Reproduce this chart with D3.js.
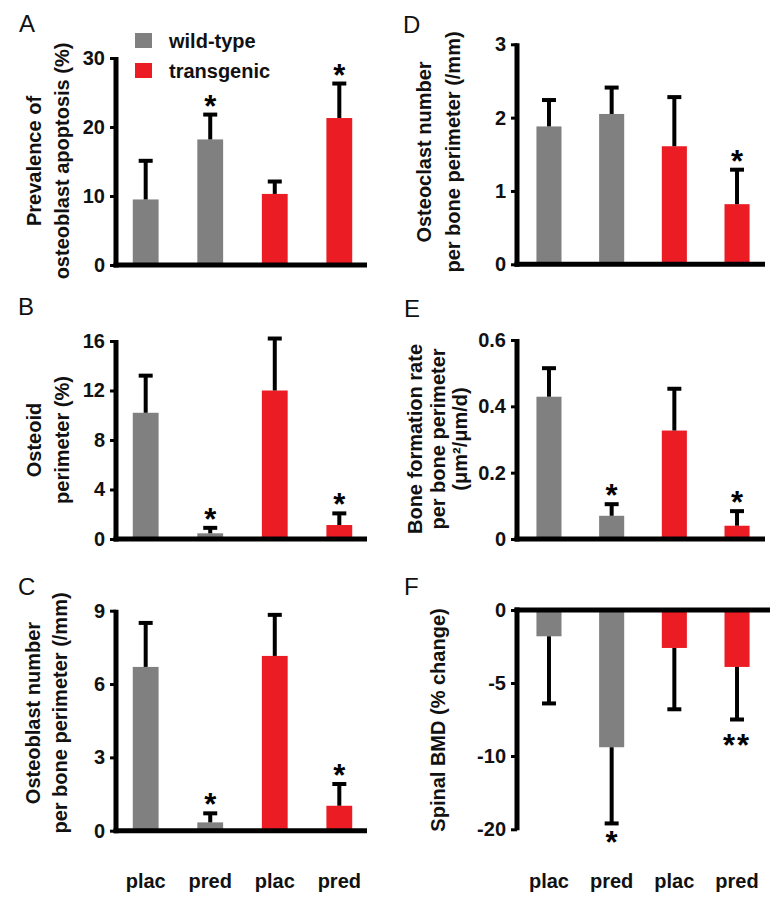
<!DOCTYPE html>
<html>
<head>
<meta charset="utf-8">
<script src="https://cdn.jsdelivr.net/npm/d3@7"></script>
<style>
  html, body { margin: 0; padding: 0; background: #fff; }
  svg { display: block; font-family: "Liberation Sans", Arial, Helvetica, sans-serif; }
</style>
</head>
<body>
<svg id="chart" width="783" height="906"></svg>
<script>
// ---------- data ----------
const categories = ["plac", "pred", "plac", "pred"];
const genotypes = ["wild-type", "wild-type", "transgenic", "transgenic"];
const legendLabels = ["wild-type", "transgenic"];

const apoptosisMean = [9.5, 18.2, 10.3, 21.3];
const apoptosisErr  = [15.1, 21.8, 12.1, 26.3];
const apoptosisStars = ["", "*", "", "*"];
const apoptosisTicks = [0, 10, 20, 30];

const osteoidMean = [10.2, 0.46, 12.0, 1.13];
const osteoidErr  = [13.2, 0.9, 16.2, 2.07];
const osteoidStars = ["", "*", "", "*"];
const osteoidTicks = [0, 4, 8, 12, 16];

const obNumberMean = [6.7, 0.34, 7.15, 1.02];
const obNumberErr  = [8.5, 0.71, 8.83, 1.91];
const obNumberStars = ["", "*", "", "*"];
const obNumberTicks = [0, 3, 6, 9];

const ocNumberMean = [1.88, 2.05, 1.61, 0.82];
const ocNumberErr  = [2.24, 2.41, 2.28, 1.29];
const ocNumberStars = ["", "", "", "*"];
const ocNumberTicks = [0, 1, 2, 3];

const bfrMean = [0.429, 0.070, 0.327, 0.040];
const bfrErr  = [0.515, 0.105, 0.453, 0.084];
const bfrStars = ["", "*", "", "*"];
const bfrTicks = [0, 0.2, 0.4, 0.6];
const bfrTickLabels = ["0", "0.2", "0.4", "0.6"];

const bmdMean = [-1.8, -9.4, -2.6, -3.9];
const bmdErr  = [-6.4, -19.2, -6.8, -7.5];
const bmdStars = ["", "*", "", "**"];
const bmdTicks = [0, -5, -10, -20];

// ---------- style / layout ----------
const colors = { "wild-type": "#808080", "transgenic": "#ec1c24" };
const FONT = 20;
const svg = d3.select("#chart");

const panels = [
  { letter: "A", lx: 19, ly: 32, axisX: 116, yTop: 58, yBot: 265, domain: [0, 30],
    mean: apoptosisMean, err: apoptosisErr, stars: apoptosisStars, ticks: apoptosisTicks,
    labels: ["Prevalence of", "osteoblast apoptosis (%)"], labX: [34, 62], labY: 161, xEnd: 367 },
  { letter: "B", lx: 18, ly: 315, axisX: 116, yTop: 341, yBot: 539, domain: [0, 16],
    mean: osteoidMean, err: osteoidErr, stars: osteoidStars, ticks: osteoidTicks,
    labels: ["Osteoid", "perimeter (%)"], labX: [34, 62], labY: 440, xEnd: 367 },
  { letter: "C", lx: 18, ly: 595, axisX: 116, yTop: 610.7, yBot: 830.7, domain: [0, 9],
    mean: obNumberMean, err: obNumberErr, stars: obNumberStars, ticks: obNumberTicks,
    labels: ["Osteoblast number", "per bone perimeter (/mm)"], labX: [33, 60], labY: 713, xEnd: 367 },
  { letter: "D", lx: 403, ly: 33, axisX: 517, yTop: 44.3, yBot: 264.3, domain: [0, 3],
    mean: ocNumberMean, err: ocNumberErr, stars: ocNumberStars, ticks: ocNumberTicks,
    labels: ["Osteoclast number", "per bone perimeter (/mm)"], labX: [424, 453], labY: 152, xEnd: 765 },
  { letter: "E", lx: 404, ly: 317, axisX: 517, yTop: 340, yBot: 539, domain: [0, 0.6],
    mean: bfrMean, err: bfrErr, stars: bfrStars, ticks: bfrTicks, tickLabels: bfrTickLabels,
    labels: ["Bone formation rate", "per bone perimeter", "(\u03bcm\u00b2/\u03bcm/d)"], labX: [415, 438, 460], labY: 439, xEnd: 765 },
  { letter: "F", lx: 404, ly: 595, axisX: 517, yTop: 610, yBot: 829.3, domain: [0, -10, -20],
    range: [610, 756, 829.3], negative: true,
    mean: bmdMean, err: bmdErr, stars: bmdStars, ticks: bmdTicks,
    labels: ["Spinal BMD (% change)"], labX: [438], labY: 720, xEnd: 770 }
];

panels.forEach(p => {
  const g = svg.append("g");
  const y = d3.scaleLinear().domain(p.domain).range(p.range || [p.yBot, p.yTop]);
  const x = d3.scaleBand().domain(d3.range(categories.length))
      .range(p.axisX < 300 ? [116, 369] : [517, 769])
      .paddingInner(0.6).paddingOuter(p.axisX < 300 ? 0.26 : 0.31);
  const zeroY = y(0);

  // panel letter
  g.append("text").attr("x", p.lx).attr("y", p.ly)
    .attr("font-size", 24).attr("fill", "#111").text(p.letter);

  // bars
  g.selectAll("rect.bar").data(p.mean).join("rect")
    .attr("class", "bar")
    .attr("x", (d, i) => x(i))
    .attr("width", x.bandwidth())
    .attr("y", d => Math.min(y(d), zeroY))
    .attr("height", d => Math.abs(y(d) - zeroY))
    .attr("fill", (d, i) => colors[genotypes[i]]);

  // error bars (one-sided)
  const eb = g.selectAll("g.err").data(p.err).join("g").attr("class", "err");
  eb.append("line")
    .attr("x1", (d, i) => x(i) + x.bandwidth() / 2)
    .attr("x2", (d, i) => x(i) + x.bandwidth() / 2)
    .attr("y1", (d, i) => y(p.mean[i]))
    .attr("y2", d => y(d))
    .attr("stroke", "#000").attr("stroke-width", 4);
  eb.append("line")
    .attr("x1", (d, i) => x(i) + x.bandwidth() / 2 - 7)
    .attr("x2", (d, i) => x(i) + x.bandwidth() / 2 + 7)
    .attr("y1", d => y(d))
    .attr("y2", d => y(d))
    .attr("stroke", "#000").attr("stroke-width", 4);

  // significance stars
  g.selectAll("text.star").data(p.stars).join("text")
    .attr("class", "star")
    .attr("x", (d, i) => x(i) + x.bandwidth() / 2)
    .attr("y", (d, i) => p.negative ? y(p.err[i]) + (d.length > 1 ? 36 : 30) : y(p.err[i]) + 2)
    .attr("text-anchor", "middle")
    .attr("font-size", 31).attr("font-weight", "bold")
    .attr("letter-spacing", d => d.length > 1 ? 2 : 0)
    .text(d => d);

  // y axis
  const axis = d3.axisLeft(y).tickValues(p.ticks).tickSize(6).tickPadding(5)
    .tickFormat((d, i) => p.tickLabels ? p.tickLabels[i] : String(d));
  const ag = g.append("g").attr("transform", `translate(${p.axisX},0)`).call(axis);
  ag.select(".domain").remove();
  ag.selectAll(".tick line").attr("stroke", "#000").attr("stroke-width", 3);
  ag.selectAll(".tick text").attr("font-size", FONT).attr("font-weight", "bold")
    .attr("font-family", "Liberation Sans, Arial, sans-serif").attr("fill", "#111");
  g.append("line").attr("x1", p.axisX).attr("x2", p.axisX)
    .attr("y1", p.negative ? p.yTop - 2.5 : p.yTop - 1).attr("y2", p.negative ? p.yBot + 1 : p.yBot + 2.5)
    .attr("stroke", "#000").attr("stroke-width", 5);
  // x axis baseline
  g.append("line").attr("x1", p.axisX - 2.5).attr("x2", p.xEnd)
    .attr("y1", zeroY).attr("y2", zeroY)
    .attr("stroke", "#000").attr("stroke-width", 5);

  // y label (rotated)
  p.labels.forEach((t, k) => {
    g.append("text")
      .attr("transform", `translate(${p.labX[k] + 7},${p.labY}) rotate(-90)`)
      .attr("text-anchor", "middle")
      .attr("font-size", FONT).attr("font-weight", "bold").attr("fill", "#111")
      .text(t);
  });

  // category labels under bottom panels
  if (p.letter === "C" || p.letter === "F") {
    g.selectAll("text.cat").data(categories).join("text")
      .attr("class", "cat")
      .attr("x", (d, i) => x(i) + x.bandwidth() / 2)
      .attr("y", 888)
      .attr("text-anchor", "middle")
      .attr("font-size", FONT).attr("font-weight", "bold").attr("fill", "#111")
      .text(d => d);
  }
});

// legend (panel A)
const lg = svg.append("g");
legendLabels.forEach((name, i) => {
  lg.append("rect").attr("x", 135).attr("y", 33 + i * 30).attr("width", 17).attr("height", 15)
    .attr("fill", colors[name]);
  lg.append("text").attr("x", 169).attr("y", 48 + i * 30)
    .attr("font-size", FONT).attr("font-weight", "bold").attr("fill", "#111").text(name);
});
</script>
</body>
</html>
